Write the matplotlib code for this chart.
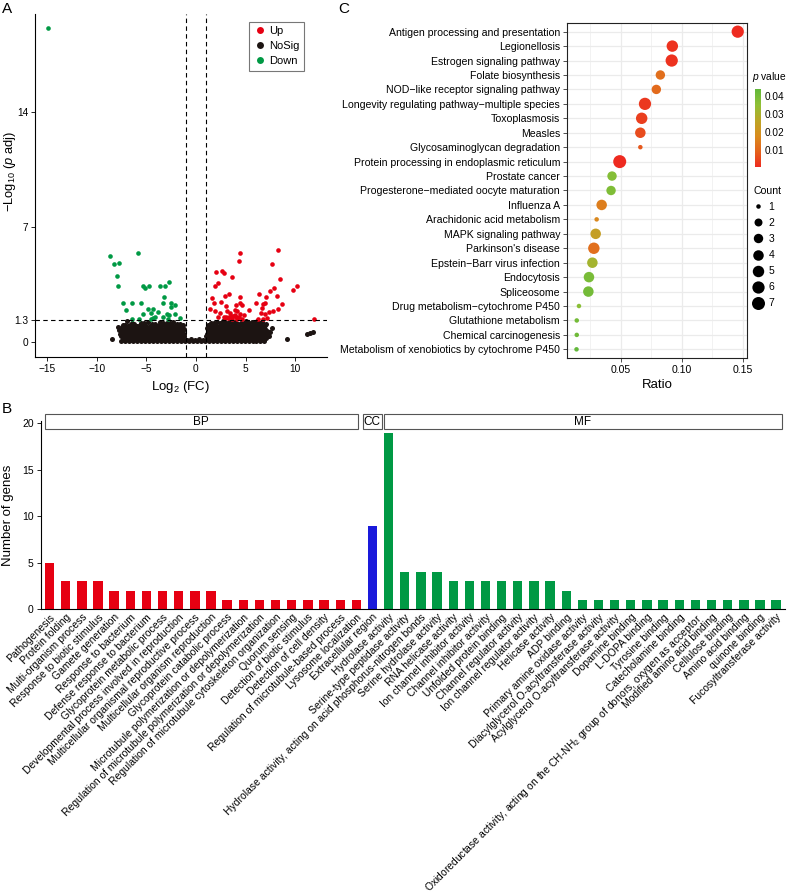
import numpy as np
import matplotlib
matplotlib.use("Agg")
import matplotlib.pyplot as plt
from matplotlib.colors import LinearSegmentedColormap, Normalize
from matplotlib.lines import Line2D
from matplotlib.patches import Rectangle
import matplotlib.colorbar as mcolorbar

plt.rcParams['font.family'] = ['Liberation Sans', 'DejaVu Sans']
plt.rcParams['mathtext.fontset'] = 'custom'
plt.rcParams['mathtext.rm'] = 'Liberation Sans'
plt.rcParams['mathtext.it'] = 'Liberation Sans:italic'

# ---------------- A: volcano data (log2FC, -log10 padj) ----------------
up_x = [4.49, 4.29, 8.27, 7.71, 1.98, 2.65, 2.81, 3.59, 8.44, 2.18, 1.94, 10.15, 9.82, 7.84, 7.50,
        3.35, 2.88, 6.36, 4.42, 7.10, 1.67, 2.48, 1.81, 7.00, 6.77, 4.49, 4.69, 6.03, 8.17, 8.64,
        4.02, 1.41, 1.91, 3.02, 3.89, 4.09, 5.36, 6.70, 7.37, 7.77, 8.31, 2.41, 3.15, 3.45, 3.89,
        4.42, 4.86, 6.57, 6.93, 2.21, 2.81, 3.02, 3.22, 3.59, 4.09, 4.62, 6.26, 6.77, 7.14, 11.89,
        3.30, 3.70, 4.00, 3.50, 2.90, 4.30]
up_y = [5.41, 4.90, 5.61, 4.71, 4.25, 4.33, 4.22, 3.94, 3.82, 3.59, 3.37, 3.41, 3.15, 3.27, 3.12,
        2.90, 2.78, 2.92, 2.75, 2.75, 2.65, 2.41, 2.39, 2.39, 2.31, 2.39, 2.27, 2.39, 2.80, 2.31,
        2.23, 2.02, 1.86, 2.17, 1.94, 1.90, 1.96, 2.06, 1.84, 1.90, 2.02, 1.78, 1.88, 1.74, 1.65,
        1.70, 1.62, 1.74, 1.70, 1.53, 1.49, 1.53, 1.43, 1.41, 1.41, 1.41, 1.41, 1.41, 1.45, 1.37,
        1.50, 1.55, 1.50, 1.60, 1.45, 1.48]

down_x = [-14.9, -8.64, -8.24, -7.77, -5.80, -7.91, -7.87, -5.29, -5.13, -4.69, -3.62, -3.08, -2.75,
          -3.22, -3.35, -7.37, -6.40, -5.56, -7.04, -4.79, -4.35, -3.82, -2.51, -2.48, -2.08, -5.36,
          -4.49, -4.32, -4.12, -3.28, -2.95, -2.68, -2.11, -1.64, -6.46, -5.73, -4.55, -2.78]
down_y = [19.1, 5.20, 4.71, 4.77, 5.41, 4.02, 3.39, 3.39, 3.29, 3.39, 3.37, 3.37, 3.67,
          2.72, 2.37, 2.37, 2.37, 2.39, 1.92, 2.00, 2.00, 1.84, 2.35, 2.14, 2.23, 1.70,
          1.78, 1.43, 1.49, 1.49, 1.70, 1.65, 1.70, 1.45, 1.41, 1.41, 1.41, 1.37]

nosig_x = [-7.5, -7.1, -6.7, -6.3, -5.9, -5.5, -5.1, -4.7, -4.3, -3.9, -3.5, -3.1, -2.7, -2.3, -1.9, -1.5, -1.1,
           -0.7, -0.3, 0.1, 0.5, 0.9, 1.3, 1.7, 2.1, 2.5, 2.9, 3.3, 3.7, 4.1, 4.5, 4.9, 5.3, 5.7, 6.1, 6.5, 6.9,
           -7.3, -6.9, -6.5, -6.1, -5.7, -5.3, -4.9, -4.5, -4.1, -3.7, -3.3, -2.9, -2.5, -2.1, -1.7, -1.3,
           -0.9, -0.5, -0.1, 0.3, 0.7, 1.1, 1.5, 1.9, 2.3, 2.7, 3.1, 3.5, 3.9, 4.3, 4.7, 5.1, 5.5, 5.9, 6.3, 6.7,
           -7.3, -6.9, -6.5, -6.1, -5.7, -5.3, -4.9, -4.5, -4.1, -3.7, -3.3, -2.9, -2.5, -2.1, -1.7, -1.3,
           1.2, 1.6, 2.0, 2.4, 2.8, 3.2, 3.6, 4.0, 4.4, 4.8, 5.2, 5.6, 6.0, 6.4, 6.8, 7.1,
           -7.5, -7.1, -6.7, -6.3, -5.9, -5.5, -5.1, -4.7, -4.3, -3.9, -3.5, -3.1, -2.7, -2.3, -1.9, -1.5, -1.15,
           1.0, 1.4, 1.8, 2.2, 2.6, 3.0, 3.4, 3.8, 4.2, 4.6, 5.0, 5.4, 5.8, 6.2, 6.6, 7.0,
           -7.6, -7.2, -6.8, -6.4, -6.0, -5.6, -5.2, -4.8, -4.4, -4.0, -3.6, -3.2, -2.8, -2.4, -2.0, -1.6, -1.2,
           1.1, 1.5, 1.9, 2.3, 2.7, 3.1, 3.5, 3.9, 4.3, 4.7, 5.1, 5.5, 5.9, 6.3, 6.7, 7.1,
           -7.4, -7.0, -6.6, -6.2, -5.8, -5.4, -5.0, -4.6, -4.2, -3.8, -3.4, -3.0, -2.6, -2.2, -1.8, -1.4,
           1.3, 1.7, 2.1, 2.5, 2.9, 3.3, 3.7, 4.1, 4.5, 4.9, 5.3, 5.7, 6.1, 6.5, 6.9, 7.3,
           -7.7, -7.3, -6.9, -6.5, -6.1, -5.7, -5.3, -4.9, -4.5, -4.1, -3.7, -3.3, -2.9, -2.5, -2.1, -1.7, -1.3,
           1.2, 1.6, 2.0, 2.4, 2.8, 3.2, 3.6, 4.0, 4.4, 4.8, 5.2, 5.6, 6.0, 6.4, 6.8, 7.2,
           -7.5, -7.1, -6.7, -6.3, -5.9, -5.5, -5.1, -4.7, -4.3, -3.9, -3.5, -3.1, -2.7, -2.3, -1.9, -1.5, -1.15,
           1.1, 1.4, 1.8, 2.2, 2.6, 3.0, 3.4, 3.8, 4.2, 4.6, 5.0, 5.4, 5.8, 6.2, 6.6, 7.0,
           -7.8, -7.4, -6.8, -6.3, -5.9, -5.4, -5.0, -4.4, -3.9, -3.5, -3.0, -2.6, -2.2, -1.8, -1.4,
           1.3, 1.7, 2.2, 2.6, 3.0, 3.5, 3.9, 4.3, 4.8, 5.2, 5.7, 6.1, 6.5, 6.9,
           -7.1, -6.6, -6.0, -5.6, -5.2, -4.6, -4.2, -3.7, -3.2, -2.8, -2.4, -2.0, -1.6, -1.25,
           1.2, 1.9, 2.4, 2.8, 3.2, 3.7, 4.1, 4.6, 5.0, 5.4, 5.9, 6.3, 6.7, 7.0,
           -6.4, -5.2, -4.4, -3.3, -2.6, -1.9, 1.8, 2.4, 3.0, 3.6, 4.2, 4.8, 5.3, 5.9, 6.5,
           -7.3, -6.97, -6.2, -5.5, -4.8, -4.1, -3.6, -2.9, -2.3, -1.6,
           1.5, 2.1, 2.7, 3.3, 3.9, 4.5, 5.0, 5.6, 6.2, 6.7, 7.1,
           7.5, 7.7, 7.4, -8.41, 9.18, 11.19, 11.46, 11.83]
nosig_y = [0.03, 0.05, 0.02, 0.04, 0.03, 0.06, 0.02, 0.04, 0.03, 0.05, 0.02, 0.04, 0.03, 0.05, 0.02, 0.04, 0.03,
           0.05, 0.02, 0.04, 0.03, 0.05, 0.02, 0.04, 0.03, 0.05, 0.02, 0.04, 0.03, 0.05, 0.02, 0.04, 0.03, 0.05, 0.02, 0.04, 0.03,
           0.13, 0.15, 0.12, 0.16, 0.14, 0.13, 0.15, 0.12, 0.16, 0.14, 0.13, 0.15, 0.12, 0.16, 0.14, 0.13,
           0.12, 0.14, 0.13, 0.15, 0.12, 0.16, 0.14, 0.13, 0.15, 0.12, 0.16, 0.14, 0.13, 0.15, 0.12, 0.16, 0.14, 0.13, 0.15, 0.12,
           0.24, 0.27, 0.22, 0.26, 0.25, 0.23, 0.28, 0.24, 0.26, 0.22, 0.27, 0.25, 0.23, 0.26, 0.24, 0.28,
           0.25, 0.22, 0.27, 0.24, 0.26, 0.23, 0.28, 0.25, 0.22, 0.26, 0.24, 0.27, 0.23, 0.25, 0.26, 0.24,
           0.36, 0.34, 0.38, 0.35, 0.37, 0.33, 0.36, 0.34, 0.38, 0.35, 0.37, 0.33, 0.36, 0.34, 0.38, 0.35, 0.37,
           0.33, 0.36, 0.34, 0.38, 0.35, 0.37, 0.33, 0.36, 0.34, 0.38, 0.35, 0.37, 0.33, 0.36, 0.34, 0.38,
           0.46, 0.49, 0.47, 0.50, 0.45, 0.48, 0.51, 0.46, 0.49, 0.47, 0.50, 0.45, 0.48, 0.46, 0.49, 0.47, 0.50,
           0.48, 0.46, 0.50, 0.47, 0.49, 0.45, 0.48, 0.51, 0.46, 0.49, 0.47, 0.50, 0.48, 0.46, 0.49, 0.47,
           0.59, 0.57, 0.61, 0.58, 0.60, 0.56, 0.59, 0.57, 0.61, 0.58, 0.60, 0.56, 0.59, 0.57, 0.61, 0.58,
           0.60, 0.56, 0.59, 0.57, 0.61, 0.58, 0.60, 0.56, 0.59, 0.57, 0.61, 0.58, 0.60, 0.56, 0.59, 0.57,
           0.70, 0.68, 0.72, 0.69, 0.71, 0.67, 0.73, 0.70, 0.68, 0.72, 0.69, 0.71, 0.67, 0.73, 0.70, 0.68, 0.72,
           0.69, 0.71, 0.68, 0.73, 0.70, 0.72, 0.69, 0.71, 0.68, 0.73, 0.70, 0.72, 0.69, 0.71, 0.68, 0.66,
           0.80, 0.82, 0.78, 0.81, 0.79, 0.83, 0.80, 0.82, 0.78, 0.81, 0.79, 0.83, 0.80, 0.82, 0.78, 0.81, 0.79,
           0.83, 0.80, 0.82, 0.78, 0.81, 0.79, 0.83, 0.80, 0.82, 0.78, 0.81, 0.79, 0.83, 0.80, 0.82, 0.78,
           0.90, 0.88, 0.93, 0.91, 0.95, 0.89, 0.94, 0.92, 0.90, 0.96, 0.91, 0.93, 0.89, 0.92, 0.88,
           0.92, 0.95, 0.90, 0.97, 0.93, 0.91, 0.98, 0.94, 0.92, 0.99, 0.93, 0.96, 0.95, 0.90,
           1.00, 1.03, 0.98, 1.02, 1.05, 0.99, 1.01, 1.00, 1.03, 0.98, 1.02, 1.05, 0.99, 1.01,
           1.00, 1.03, 0.98, 1.02, 1.05, 0.99, 1.01, 1.00, 1.03, 0.98, 1.02, 1.05, 0.99, 1.01,
           1.12, 1.14, 1.10, 1.16, 1.13, 1.11, 1.15, 1.12, 1.17, 1.14, 1.10, 1.16, 1.13, 1.12, 1.15,
           1.05, 1.29, 1.10, 1.12, 1.18, 1.08, 1.20, 1.15, 1.22, 1.10,
           1.15, 1.20, 1.25, 1.18, 1.22, 1.15, 1.25, 1.20, 1.28, 1.22, 1.10,
           0.60, 0.84, 0.35, 0.15, 0.18, 0.49, 0.51, 0.61]

# ---------------- B: GO categories ----------------
bp_terms = ["Pathogenesis", "Protein folding", "Multi-organism process", "Response to biotic stimulus",
            "Gamete generation", "Response to bacterium", "Defense response to bacterium",
            "Glycoprotein metabolic process", "Developmental process involved in reproduction",
            "Multicellular organismal reproductive process", "Multicellular organism reproduction",
            "Glycoprotein catabolic process", "Microtubule polymerization or depolymerization",
            "Regulation of microtubule polymerization or depolymerization",
            "Regulation of microtubule cytoskeleton organization", "Quorum sensing",
            "Detection of biotic stimulus", "Detection of cell density",
            "Regulation of microtubule-based process", "Lysosome localization"]
bp_counts = [5, 3, 3, 3, 2, 2, 2, 2, 2, 2, 2, 1, 1, 1, 1, 1, 1, 1, 1, 1]
cc_terms = ["Extracellular region"]
cc_counts = [9]
mf_terms = ["Hydrolase activity", "Serine-type peptidase activity",
            "Hydrolase activity, acting on acid phosphorus-nitrogen bonds", "Serine hydrolase activity",
            "RNA helicase activity", "Ion channel inhibitor activity", "Channel inhibitor activity",
            "Unfolded protein binding", "Channel regulator activity", "Ion channel regulator activity",
            "Helicase activity", "ADP binding", "Primary amine oxidase activity",
            "Diacylglycerol O-acyltransferase activity", "Acylglycerol O-acyltransferase activity",
            "Dopamine binding", "L-DOPA binding", "Tyrosine binding", "Catecholamine binding",
            "Oxidoreductase activity, acting on the CH-NH$_2$ group of donors, oxygen as acceptor",
            "Modified amino acid binding", "Cellulose binding", "Amino acid binding", "quinone binding",
            "Fucosyltransferase activity"]
mf_counts = [19, 4, 4, 4, 3, 3, 3, 3, 3, 3, 3, 2, 1, 1, 1, 1, 1, 1, 1, 1, 1, 1, 1, 1, 1]

# ---------------- C: KEGG enrichment ----------------
kegg_terms = ["Antigen processing and presentation", "Legionellosis", "Estrogen signaling pathway",
              "Folate biosynthesis", "NOD\u2212like receptor signaling pathway",
              "Longevity regulating pathway\u2212multiple species", "Toxoplasmosis", "Measles",
              "Glycosaminoglycan degradation", "Protein processing in endoplasmic reticulum",
              "Prostate cancer", "Progesterone\u2212mediated oocyte maturation", "Influenza A",
              "Arachidonic acid metabolism", "MAPK signaling pathway", "Parkinson's disease",
              "Epstein\u2212Barr virus infection", "Endocytosis", "Spliceosome",
              "Drug metabolism\u2212cytochrome P450", "Glutathione metabolism",
              "Chemical carcinogenesis", "Metabolism of xenobiotics by cytochrome P450"]
kegg_ratio = [0.1459, 0.0923, 0.0918, 0.0825, 0.0792, 0.0699, 0.0672, 0.0661, 0.0661, 0.0492,
              0.0429, 0.0421, 0.0344, 0.0303, 0.0295, 0.0280, 0.0268, 0.0240, 0.0235,
              0.0158, 0.0140, 0.0140, 0.0138]
kegg_count = [6, 5, 6, 3, 3, 6, 5, 4, 1, 7, 3, 3, 4, 1, 4, 5, 4, 4, 4, 1, 1, 1, 1]
kegg_p = [0.001, 0.002, 0.002, 0.012, 0.011, 0.003, 0.004, 0.006, 0.008, 0.0008,
          0.037, 0.038, 0.015, 0.017, 0.024, 0.012, 0.031, 0.039, 0.040, 0.036, 0.040, 0.041, 0.0435]

fig = plt.figure(figsize=(7.87, 8.94), dpi=100)

# ================= panel A =================
axA = fig.add_axes([35/787, 1-356.7/894, 292/787, 343.2/894])
axA.scatter(nosig_x, nosig_y, s=13, color="#1c1412", linewidths=0, zorder=2)
axA.scatter(up_x, up_y, s=11, color="#e60012", linewidths=0, zorder=3)
axA.scatter(down_x, down_y, s=11, color="#009944", linewidths=0, zorder=3)
for v in (-1, 1):
    axA.axvline(v, color="black", lw=0.8, dashes=(4, 3), zorder=4)
axA.axhline(1.3, color="black", lw=0.8, dashes=(4, 3), zorder=4)
axA.set_xlim(-16.2, 13.2)
axA.set_ylim(-0.91, 20.0)
axA.set_xticks([-15, -10, -5, 0, 5, 10])
axA.set_yticks([0, 1.3, 7, 14])
axA.set_yticklabels(["0", "1.3", "7", "14"])
axA.tick_params(labelsize=7.3, length=3, width=0.6, pad=2)
for s in ("top", "right"):
    axA.spines[s].set_visible(False)
for s in ("left", "bottom"):
    axA.spines[s].set_linewidth(0.8)
axA.set_xlabel("Log$_2$ (FC)", fontsize=9.5, labelpad=4)
axA.set_ylabel("\u2212Log$_{10}$ ($p$ adj)", fontsize=9.3)
axA.yaxis.set_label_coords(-0.058, 0.54)
handles = [Line2D([], [], marker="o", ls="", color=c, markersize=5, markeredgewidth=0)
           for c in ("#e60012", "#1c1412", "#009944")]
leg = axA.legend(handles, ["Up", "NoSig", "Down"], loc="upper left", bbox_to_anchor=(0.733, 0.976),
                 borderaxespad=0, fontsize=8, frameon=True, fancybox=False, edgecolor="#555555",
                 handletextpad=0.2, handlelength=1.2, labelspacing=0.45, borderpad=0.4)
leg.get_frame().set_linewidth(0.8)

# ================= panel B =================
axB = fig.add_axes([40.7/787, 1-609.3/894, 744.3/787, 188.8/894])
terms = bp_terms + cc_terms + mf_terms
counts = bp_counts + cc_counts + mf_counts
colors = ["#e60012"] * len(bp_terms) + ["#1a1adb"] * len(cc_terms) + ["#009944"] * len(mf_terms)
xpos = np.arange(len(terms))
axB.bar(xpos, counts, width=0.58, color=colors, zorder=2)
axB.set_xlim(-0.55, len(terms) - 0.45)
axB.set_ylim(0, 20.3)
axB.set_yticks([0, 5, 10, 15, 20])
axB.set_xticks(xpos)
axB.set_xticklabels(terms, rotation=45, ha="right", va="top", rotation_mode="anchor", fontsize=7.45)
axB.tick_params(axis="x", length=0, pad=2)
axB.tick_params(axis="y", labelsize=7.5, length=3, width=0.6, pad=2)
for s in ("top", "right"):
    axB.spines[s].set_visible(False)
for s in ("left", "bottom"):
    axB.spines[s].set_linewidth(0.8)
axB.set_ylabel("Number of genes", fontsize=9.5, labelpad=6)
strip_edges = [(-0.29, 19.08, "BP"), (19.39, 20.56, "CC"), (20.73, 45.34, "MF")]
for x0, x1, lab in strip_edges:
    axB.add_patch(Rectangle((x0, 19.35), x1 - x0, 1.62, facecolor="white", edgecolor="#555555",
                            lw=0.8, clip_on=False, zorder=5))
    axB.text((x0 + x1) / 2, 20.16, lab, ha="center", va="center", fontsize=8.5, zorder=6, clip_on=False)

# ================= panel C =================
axC = fig.add_axes([567/787, 1-358/894, 180/787, 335/894])
cmap = LinearSegmentedColormap.from_list("pv", ["#ee2a20", "#e4621c", "#d98c1e", "#bca526", "#90c036", "#62b83a"])
norm = Normalize(vmin=min(kegg_p), vmax=max(kegg_p))
ypos = np.arange(len(kegg_terms))


def count_size(c):
    d_px = 4.5 + 8.5 * np.sqrt((np.asarray(c, dtype=float) - 1) / 6)
    return (d_px * 0.72) ** 2


axC.scatter(kegg_ratio, ypos, s=count_size(kegg_count), c=kegg_p, cmap=cmap, norm=norm,
            linewidths=0, zorder=3)
axC.set_ylim(len(kegg_terms) - 0.4, -0.6)
axC.set_xlim(0.006, 0.1535)
axC.set_yticks(ypos)
axC.set_yticklabels(kegg_terms, fontsize=7.6)
axC.set_xticks([0.05, 0.10, 0.15])
axC.set_xticklabels(["0.05", "0.10", "0.15"], fontsize=7.6)
axC.set_xticks([0.025, 0.075, 0.125], minor=True)
axC.tick_params(length=3, width=0.6, pad=2, color="#333333")
axC.tick_params(which="minor", length=0)
axC.grid(True, which="major", color="#ebebeb", lw=0.9, zorder=0)
axC.grid(True, which="minor", axis="x", color="#f0f0f0", lw=0.6, zorder=0)
axC.set_axisbelow(True)
for s in axC.spines.values():
    s.set_color("#222222")
    s.set_linewidth(0.8)
axC.set_xlabel("Ratio", fontsize=9.5, labelpad=3)

# colorbar for p value
cax = fig.add_axes([755/787, 1-167.3/894, 6/787, 78/894])
cb = mcolorbar.ColorbarBase(cax, cmap=cmap, norm=norm, orientation="vertical")
cb.outline.set_visible(False)
cb.set_ticks([0.01, 0.02, 0.03, 0.04])
cb.ax.set_yticklabels(["0.01", "0.02", "0.03", "0.04"])
cb.ax.tick_params(labelsize=7.2, length=2, width=0.6, color="white", pad=0.8)
fig.text(752/787, 1-76.7/894, "$p$ value", fontsize=7.4, ha="left", va="center")

# count legend
legend_counts = [1, 2, 3, 4, 5, 6, 7]
ch = [Line2D([], [], marker="o", ls="", color="black", markeredgewidth=0,
             markersize=float(np.sqrt(count_size(c)))) for c in legend_counts]
leg2 = fig.legend(ch, [str(c) for c in legend_counts], title="Count", loc="upper left",
                  bbox_to_anchor=(753/787, 1-186/894), frameon=False, fontsize=7.5,
                  title_fontsize=7.6, handlelength=1.0, handletextpad=0.5, labelspacing=0.58,
                  borderpad=0, borderaxespad=0, alignment="left")

# panel letters
fig.text(2/787, 1-13.3/894, "A", fontsize=11, ha="left", va="baseline")
fig.text(338/787, 1-13.3/894, "C", fontsize=11, ha="left", va="baseline")
fig.text(2/787, 1-413.3/894, "B", fontsize=11, ha="left", va="baseline")

fig.savefig("out.png", dpi=100)
